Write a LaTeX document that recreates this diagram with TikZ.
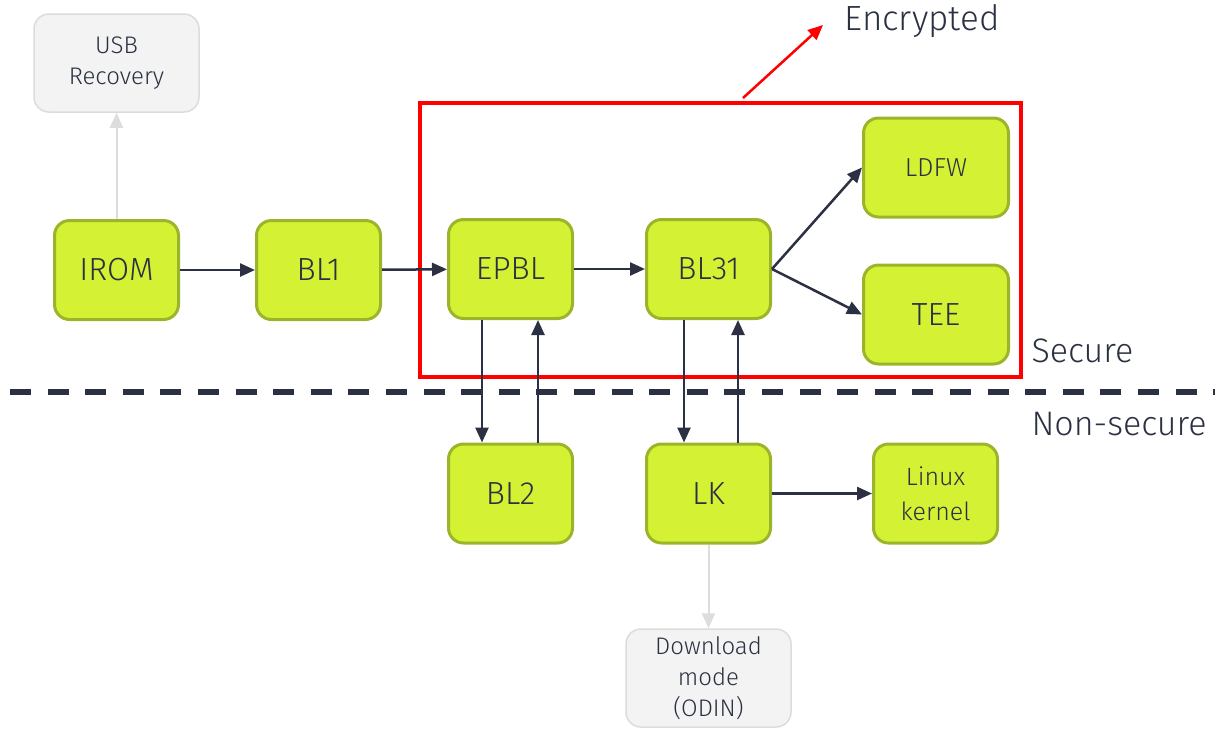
\documentclass[tikz,border=0pt]{standalone}
\usepackage{fontspec}
\setmainfont{Fira Sans}[UprightFont={* Light}]
\usetikzlibrary{arrows.meta}

\definecolor{boxgreen}{HTML}{D4F133}
\definecolor{boxedge}{HTML}{9BB52B}
\definecolor{ink}{HTML}{2B3142}
\definecolor{greybox}{HTML}{F3F3F3}
\definecolor{greyedge}{HTML}{DCDCDC}
\definecolor{greyline}{HTML}{DDDDDD}

\begin{document}
\begin{tikzpicture}[
    x=1pt, y=-1pt,
    stage/.style={
        rectangle,
        rounded corners=15pt,
        minimum width=124pt,
        minimum height=99pt,
        draw=boxedge,
        line width=3pt,
        fill=boxgreen,
        text=ink,
        font=\fontsize{32}{36}\selectfont
    },
    wide/.style={
        stage,
        minimum width=145pt
    },
    sidebox/.style={
        rectangle,
        rounded corners=15pt,
        minimum width=165pt,
        minimum height=98pt,
        draw=greyedge,
        line width=1.5pt,
        fill=greybox,
        text=ink,
        align=center,
        font=\fontsize{24}{31}\selectfont
    },
    flow/.style={
        -{Triangle[length=15pt,width=13pt]},
        line width=2.5pt,
        draw=ink
    },
    fallback/.style={
        flow,
        line width=2pt,
        draw=greyline
    },
    zonetext/.style={
        text=ink,
        anchor=west,
        font=\fontsize{34}{38}\selectfont
    }
]

\useasboundingbox (0,0) rectangle (1220,732);

% Boot stages
\node[stage] (irom) at (116.5,270) {IROM};
\node[stage] (bl1) at (318.5,270) {BL1};
\node[stage] (epbl) at (510.5,269) {EPBL};
\node[stage] (bl31) at (708.5,269) {BL31};
\node[wide, font=\fontsize{26}{30}\selectfont] (ldfw) at (936,167.5) {LDFW};
\node[wide] (tee) at (936,314.5) {TEE};
\node[stage] (bl2) at (510.5,493.5) {BL2};
\node[stage] (lk) at (708.5,493.5) {LK};
\node[stage, align=center, font=\fontsize{25}{35}\selectfont] (linux) at (935.5,493.5) {Linux\\kernel};

% Fallback modes
\node[sidebox] (usb) at (116.5,63) {USB\\Recovery};
\node[sidebox] (odin) at (708.5,678) {Download\\mode\\(ODIN)};

% Encrypted area
\draw[red, line width=4pt] (420,103) rectangle (1021,377);
\node[zonetext, font=\fontsize{35}{40}\selectfont] (enc) at (841,21) {Encrypted};
\coordinate (encfrom) at (743,98);
\coordinate (encto) at (823,25);
\draw[flow, draw=red, line width=2.5pt] (encfrom) -- (encto);

% Secure / non-secure split
\draw[ink, line width=6pt, dash pattern=on 21pt off 16.6pt] (10,392) -- (1215,392);
\node[zonetext] (secure) at (1028,351) {Secure};
\node[zonetext] (nonsecure) at (1028,424) {Non-secure};

% Flow
\draw[flow] (irom) -- (bl1);
\draw[flow] (bl1) -- (epbl);
\draw[flow] (epbl) -- (bl31);
\draw[flow] (bl31.east) -- (ldfw.west);
\draw[flow] (bl31.east) -- (tee.west);
\draw[flow] ([xshift=-28.5pt]epbl.south) -- ([xshift=-28.5pt]bl2.north);
\draw[flow] ([xshift=27.5pt]bl2.north) -- ([xshift=27.5pt]epbl.south);
\draw[flow] ([xshift=-24.5pt]bl31.south) -- ([xshift=-24.5pt]lk.north);
\draw[flow] ([xshift=29.5pt]lk.north) -- ([xshift=29.5pt]bl31.south);
\draw[flow] (lk) -- (linux);
\draw[fallback] (irom.north) -- (usb.south);
\draw[fallback] (lk.south) -- (odin.north);

\end{tikzpicture}
\end{document}
